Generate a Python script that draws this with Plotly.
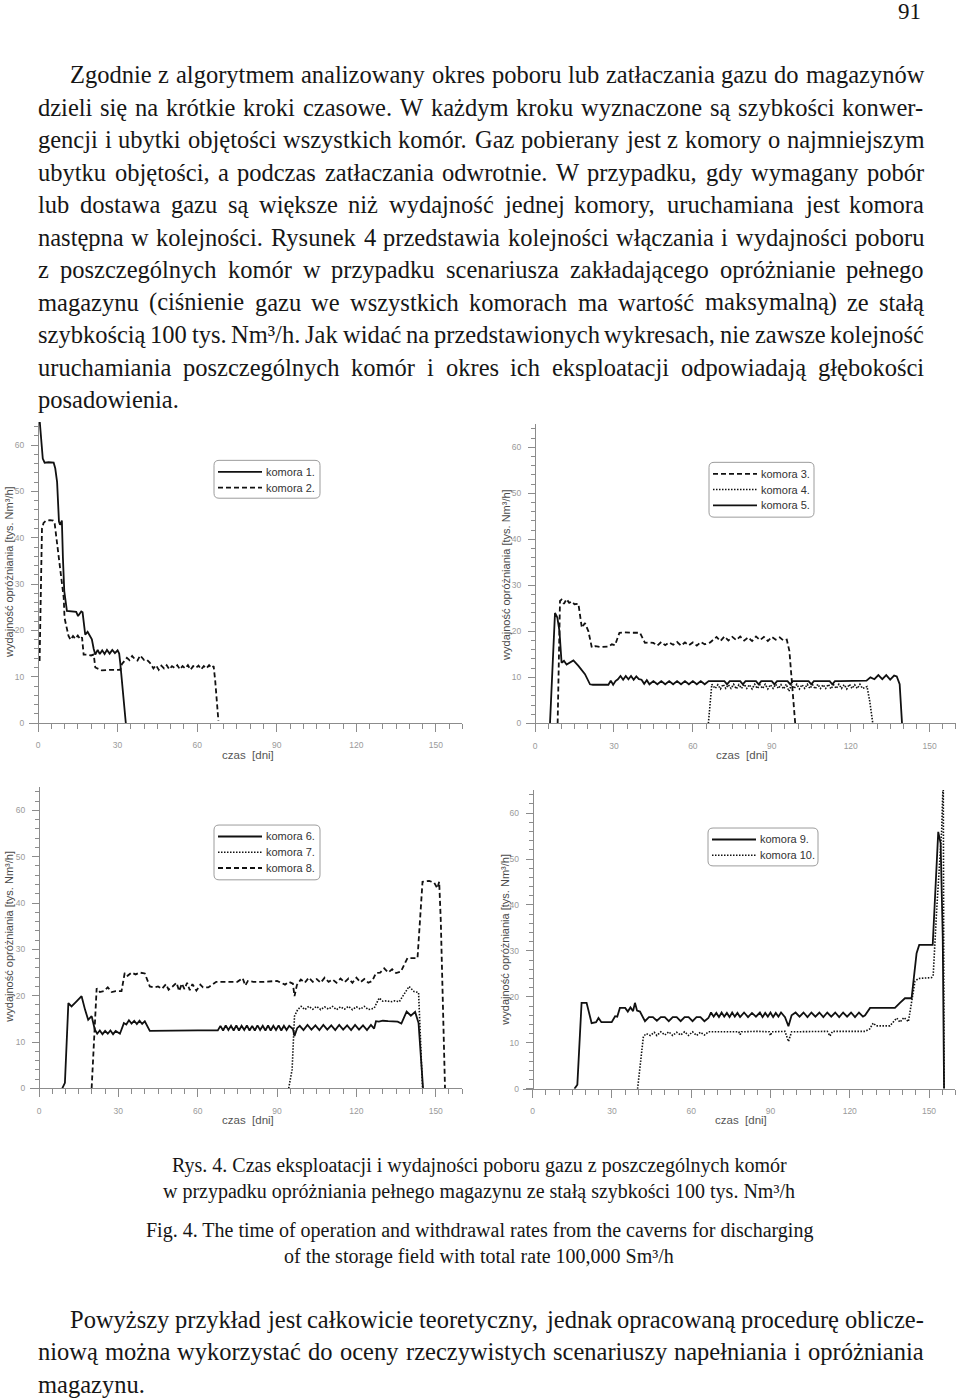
import plotly.graph_objects as go

# ---- data (x = czas [dni], y = tys. Nm3/h) ----
k1_x = [0.6, 1.2, 1.8, 2.5, 4.0, 5.9, 6.5, 7.2, 7.9, 8.3, 9.0, 9.4, 9.9, 10.9, 12.5, 14.4, 15.1, 16.3, 16.8, 17.8,
        18.7, 19.5, 20.3, 21.0, 21.6, 22.5, 23.3, 24.2, 25.1, 26.0, 27.0, 28.0, 29.0, 30.0, 30.6, 31.0, 32.3, 33.1]
k1_y = [65.5, 60.5, 57.1, 56.2, 56.3, 56.2, 55.0, 52.0, 43.5, 42.8, 43.7, 35.6, 28.5, 24.2, 24.1, 24.0, 23.1, 24.1, 23.9, 19.1,
        19.7, 19.0, 18.1, 16.0, 14.8, 15.8, 14.9, 15.7, 14.9, 15.8, 15.0, 15.8, 15.1, 15.7, 15.0, 13.0, 4.8, 0.0]

k2_x = [0.6, 1.1, 1.5, 2.1, 3.0, 4.5, 5.7, 6.3, 7.2, 8.4, 9.7, 10.0, 10.9, 11.5, 12.3, 13.2, 14.1, 15.0, 15.9, 16.6,
        17.2, 18.5, 20.0, 21.0, 21.6, 22.5, 24.0, 27.0, 30.4,
        31.0, 31.6, 32.5, 33.5, 34.5, 35.5, 36.5, 37.5, 38.5, 40.0, 41.0, 42.2, 43.5, 44.5, 45.5, 46.5, 47.5, 48.5, 49.5,
        50.5, 51.5, 52.5, 53.5, 54.5, 55.5, 56.5, 57.5, 58.5, 59.5, 60.5, 61.5, 62.5, 63.5, 64.5, 65.5, 66.2, 66.8, 68.0]
k2_y = [13.4, 30.0, 42.0, 43.2, 43.7, 43.8, 43.7, 43.0, 38.5, 33.5, 27.0, 22.7, 19.9, 18.8, 18.0, 18.8, 18.2, 18.9, 18.1, 18.5,
        14.8, 14.8, 14.6, 14.8, 12.0, 11.8, 11.4, 11.5, 11.5,
        11.5, 12.7, 13.3, 14.1, 13.6, 14.5, 13.8, 13.5, 14.6, 13.6, 13.7, 13.0, 11.8, 12.5, 11.5, 12.4, 11.8, 12.5, 11.6,
        12.3, 11.9, 12.5, 11.6, 12.3, 11.8, 12.5, 11.5, 12.3, 11.9, 12.4, 11.6, 12.3, 11.8, 12.5, 11.9, 12.3, 9.1, 0.5]

k3_x = [8.6, 9.5, 10.1, 11.0, 12.0, 13.0, 14.0, 15.0, 16.5, 17.8, 19.0, 20.3, 21.6, 23.0, 25.0, 27.9, 29.2, 30.4, 32.1, 34.0,
        37.0, 39.9, 41.8, 43.5, 45.0, 46.5, 48.0, 49.5, 51.0, 52.5, 54.0, 55.5, 57.0, 58.5, 60.0, 61.5, 63.0, 64.5, 66.6, 67.8,
        69.0, 70.5, 72.0, 73.5, 75.0, 76.5, 78.0, 79.5, 81.0, 82.5, 84.0, 85.5, 87.0, 88.5, 90.0, 91.5, 93.0, 94.5, 95.7, 96.7,
        97.6, 98.9]
k3_y = [0.0, 26.6, 26.9, 26.0, 27.0, 26.2, 26.5, 25.9, 26.0, 20.8, 21.8, 20.0, 16.5, 16.8, 16.6, 16.7, 17.2, 17.0, 19.7, 19.8,
        19.7, 19.7, 17.5, 17.6, 17.5, 16.9, 17.7, 17.0, 17.6, 17.1, 17.7, 16.9, 17.6, 17.0, 17.6, 16.9, 17.7, 17.2, 17.6, 18.3,
        18.8, 17.9, 18.9, 18.0, 18.8, 18.1, 18.9, 18.0, 18.7, 17.9, 18.9, 18.1, 18.8, 17.9, 18.8, 18.2, 18.7, 18.0, 18.2, 15.7,
        8.5, 0.0]

k4_x = [65.9, 67.2, 68.5, 69.5, 70.5, 71.5, 72.5, 73.5, 74.5, 75.5, 76.5, 77.5, 78.5, 79.5, 80.5, 81.5, 82.5, 83.5, 84.5,
        85.5, 86.5, 87.5, 88.5, 89.5, 90.5, 91.5, 92.5, 93.5, 94.5, 95.5, 96.5, 97.5, 98.5, 99.5, 100.5, 101.5, 102.5, 103.5,
        104.5, 105.5, 106.5, 107.5, 108.5, 109.5, 110.5, 111.5, 112.5, 113.5, 114.5, 115.5, 116.5, 117.5, 118.5, 119.5,
        120.5, 121.5, 122.5, 123.5, 124.5, 126.2, 127.2, 128.4]
k4_y = [0.0, 8.5, 7.6, 8.4, 7.5, 8.5, 7.6, 8.4, 7.6, 8.5, 7.5, 8.4, 7.6, 8.5, 7.6, 8.4, 7.5, 8.5, 7.6, 8.4,
        7.6, 8.5, 7.5, 8.4, 7.6, 8.5, 7.6, 8.4, 7.5, 8.5, 7.0, 8.4, 7.6, 8.5, 7.5, 8.4, 7.6, 8.5, 7.6, 8.4,
        7.5, 8.5, 7.6, 8.4, 7.6, 8.5, 7.5, 8.4, 7.6, 8.5, 7.6, 8.4, 7.5, 8.5, 7.6, 8.4, 7.6, 8.5, 7.6, 8.0,
        4.9, 0.0]

k5_x = [5.7, 7.6, 8.5, 9.3, 10.1, 11.0, 12.0, 13.3, 14.6, 16.5, 17.8, 19.0, 20.9, 22.0, 25.0, 27.9, 28.8, 29.7, 30.6, 31.5,
        32.5, 33.5, 34.5, 35.5, 36.5, 37.5, 38.5, 39.5, 40.5, 41.5, 42.5, 43.5, 45.0, 46.5, 48.0, 49.5, 51.0, 52.5, 54.0, 55.5,
        57.0, 58.5, 60.0, 61.5, 63.0, 64.5, 66.0, 67.5, 70.0, 72.0, 73.0, 74.0, 76.0, 78.0, 79.0, 80.0, 82.0, 84.0, 85.0, 86.0,
        88.0, 90.0, 91.0, 92.0, 94.0, 96.0, 97.0, 98.0, 100.0, 104.0, 105.0, 106.0, 108.0, 112.0, 113.0, 114.0, 116.0, 120.0,
        124.0, 126.0, 127.5, 129.0, 130.5, 132.0, 133.5, 135.0, 136.5, 137.5, 138.6, 139.5]
k5_y = [0.0, 24.0, 23.0, 20.0, 13.2, 13.6, 12.8, 13.3, 13.7, 12.5, 11.5, 10.7, 8.5, 8.4, 8.4, 8.4, 9.3, 8.4, 9.2, 9.6,
        10.3, 9.5, 10.3, 9.6, 10.3, 9.5, 10.2, 9.6, 9.5, 8.6, 9.4, 8.5, 9.2, 8.5, 9.2, 8.5, 9.2, 8.5, 9.2, 8.5,
        9.2, 8.5, 9.2, 8.5, 9.2, 8.5, 9.2, 9.2, 9.2, 9.2, 8.5, 9.2, 9.2, 9.2, 8.5, 9.2, 9.2, 9.2, 8.5, 9.2,
        9.2, 9.2, 8.5, 9.2, 9.2, 9.2, 8.5, 9.2, 9.2, 9.2, 8.5, 9.2, 9.2, 9.2, 8.5, 9.2, 9.2, 9.2,
        9.2, 9.3, 10.0, 9.6, 10.5, 9.6, 10.5, 9.5, 10.4, 10.2, 8.5, 0.0]

k6_x = [8.8, 9.8, 11.1, 12.3, 14.2, 16.1, 17.4, 18.6, 19.9, 21.1, 22.0, 23.0, 24.0, 25.0, 26.0, 27.0, 28.0, 29.0, 30.6, 32.1,
        33.0, 34.0, 35.0, 36.0, 37.0, 38.0, 39.0, 40.0, 41.9, 50.0, 60.0, 67.6,
        68.6, 69.6, 70.6, 71.6, 72.6, 73.6, 74.6, 75.6, 76.6, 77.6, 78.6, 79.6, 80.6, 81.6, 82.6, 83.6, 84.6, 85.6, 86.6,
        87.6, 88.6, 89.6, 90.6, 91.6, 92.6, 93.6, 94.6, 96.0, 96.6, 97.6, 98.6,
        100.0, 101.5, 103.0, 104.5, 106.0, 107.5, 109.0, 110.5, 112.0, 113.5, 115.0, 116.5, 118.0, 119.5, 121.0, 122.5,
        124.0, 125.5, 126.7, 127.4, 128.5, 130.0, 132.0, 134.0, 135.6, 137.0, 139.0, 140.6, 142.2, 143.5, 145.2]
k6_y = [0.0, 1.2, 18.4, 17.7, 18.8, 19.9, 17.0, 14.8, 15.6, 12.7, 11.8, 12.5, 11.7, 12.4, 11.8, 12.5, 11.7, 12.4, 11.8, 14.1,
        13.8, 14.7, 14.0, 14.6, 13.9, 14.6, 13.9, 14.5, 12.4, 12.5, 12.5, 12.5,
        13.5, 12.5, 13.6, 12.6, 13.5, 12.5, 13.6, 12.5, 13.5, 12.6, 13.6, 12.5, 13.5, 12.5, 13.6, 12.6, 13.5, 12.5, 13.6,
        12.5, 13.5, 12.6, 13.6, 12.5, 13.5, 12.6, 13.5, 12.8, 11.3, 13.0, 13.5,
        12.6, 13.7, 12.7, 13.6, 12.6, 13.7, 12.7, 13.6, 12.6, 13.7, 12.7, 13.6, 12.6, 13.7, 12.7, 13.6,
        12.6, 13.7, 12.9, 14.5, 14.4, 14.6, 14.5, 14.5, 14.4, 14.0, 16.6, 15.7, 16.5, 14.1, 0.0]

k7_x = [94.4, 95.7, 96.6, 97.8, 99.1, 100.5, 102.0, 103.5, 105.0, 106.5, 108.0, 109.5, 111.0, 112.5, 114.0, 115.5, 117.0,
        118.5, 120.0, 121.5, 123.0, 124.5, 126.7, 128.6, 130.0, 131.5, 133.0, 134.5, 136.2, 137.5, 139.9, 141.8, 143.5, 145.0]
k7_y = [0.0, 4.1, 15.6, 17.0, 17.7, 17.0, 17.7, 17.1, 17.7, 17.0, 17.6, 17.1, 17.7, 17.0, 17.6, 17.1, 17.7,
        17.0, 17.6, 17.1, 17.7, 17.0, 17.3, 19.5, 18.8, 18.9, 18.7, 18.9, 18.7, 19.8, 22.0, 20.9, 20.7, 0.0]

k8_x = [19.9, 21.8, 23.0, 24.5, 26.0, 27.5, 29.0, 31.2, 32.4, 33.5, 35.0, 36.5, 38.0, 40.0, 41.9, 43.5, 45.0, 46.5, 48.0, 49.0,
        50.5, 52.0, 53.0, 54.0, 55.0, 56.0, 57.0, 58.0, 59.5, 61.0, 62.0, 64.0, 67.0, 70.0, 75.0, 77.0, 78.0, 79.0, 81.0, 85.0,
        90.0, 93.0, 94.5, 96.0, 96.6, 97.5, 99.0, 100.5, 102.0, 103.5, 105.0, 106.5, 108.0, 109.5, 111.0, 112.5, 114.0, 115.5,
        117.0, 118.5, 120.0, 121.5, 123.0, 124.5, 126.0, 127.4, 129.0, 130.5, 132.0, 133.5, 135.0, 136.8, 139.3, 141.0, 143.1,
        145.0, 147.5, 149.4, 150.6, 151.3, 151.9, 153.5]
k8_y = [0.0, 21.6, 20.8, 21.0, 21.8, 20.8, 21.0, 21.0, 24.9, 24.3, 25.0, 24.6, 25.0, 24.8, 22.0, 21.8, 22.0, 21.5, 22.5, 21.3,
        22.0, 22.8, 21.0, 22.6, 21.4, 22.8, 21.2, 22.5, 21.1, 22.4, 21.8, 21.8, 23.0, 23.0, 23.0, 23.8, 22.2, 23.2, 23.0, 23.0,
        23.2, 22.4, 23.0, 22.6, 19.9, 22.3, 23.5, 22.8, 23.9, 23.0, 23.6, 22.8, 23.9, 23.0, 23.5, 22.8, 23.7, 22.9,
        23.7, 22.8, 23.9, 22.9, 23.6, 22.8, 23.2, 24.9, 25.0, 25.9, 25.0, 25.7, 24.9, 25.2, 28.1, 28.1, 28.1,
        44.6, 44.8, 44.4, 43.2, 44.6, 36.3, 0.0]

k9_x = [15.8, 16.9, 18.5, 20.4, 22.3, 24.0, 24.9, 26.0, 29.9, 31.2, 32.0, 33.0, 35.0, 36.0, 37.0, 38.0, 38.7, 39.5, 40.6, 42.5,
        44.0, 45.5, 47.0, 48.5, 50.0, 51.5, 53.0, 54.5, 56.0, 57.5, 59.0, 60.5, 62.0, 63.5, 65.0, 66.5, 67.5, 68.5, 69.5, 70.5,
        71.5, 72.5, 73.5, 74.5, 75.5, 76.5, 77.5, 78.5, 80.0, 81.5, 83.0, 84.5, 86.0, 87.0, 88.0, 89.0, 90.0, 91.0, 92.0, 93.0,
        94.0, 95.5, 96.8, 98.0, 99.5, 101.0, 102.5, 104.0, 105.5, 107.0, 108.5, 110.0, 111.5, 113.0, 114.5, 116.0, 117.5,
        119.0, 120.5, 122.0, 123.5, 125.0, 125.8, 127.7, 133.0, 137.1, 139.0, 140.9, 143.4, 145.3, 146.3, 151.4, 153.5,
        154.4, 155.2, 155.7]
k9_y = [0.0, 0.9, 18.7, 18.7, 14.3, 14.5, 15.4, 14.5, 14.5, 15.8, 15.7, 17.6, 17.6, 16.8, 17.7, 16.9, 18.7, 17.0, 16.8, 14.7,
        15.6, 15.6, 14.8, 15.6, 15.6, 14.7, 15.6, 15.6, 14.7, 15.6, 15.6, 14.7, 15.6, 15.6, 14.7, 15.4, 16.6, 15.7, 16.5, 15.6,
        16.6, 15.7, 16.5, 15.6, 16.6, 15.7, 16.5, 15.6, 16.6, 15.6, 16.5, 15.7, 16.6, 15.6, 16.5, 15.7, 16.6, 15.6, 16.5, 15.7,
        16.6, 15.6, 13.6, 16.0, 16.6, 15.7, 16.6, 15.6, 16.6, 15.7, 16.6, 15.6, 16.6, 15.7, 16.6, 15.6, 16.6,
        15.7, 16.6, 15.6, 16.6, 15.7, 16.0, 17.6, 17.6, 17.6, 18.7, 19.7, 19.7, 29.5, 31.3, 31.3, 55.9,
        53.4, 33.1, 0.0]

k10_x = [39.7, 41.9, 43.0, 44.5, 46.0, 47.0, 48.5, 50.0, 51.5, 53.0, 54.5, 56.0, 57.5, 59.0, 60.5, 62.0, 63.5, 65.0, 66.5,
         67.1, 70.0, 75.0, 78.0, 78.5, 79.0, 85.0, 89.5, 90.0, 90.5, 95.5, 96.8, 98.0, 105.0, 111.5, 112.5, 113.5, 120.0,
         125.8, 127.5, 128.9, 130.0, 135.2, 137.8, 139.0, 140.5, 142.2, 144.7, 146.0, 151.0, 151.6, 152.9, 154.8, 155.4, 155.7]
k10_y = [0.0, 11.4, 12.0, 11.6, 12.3, 11.6, 12.4, 11.7, 12.4, 11.6, 12.3, 11.7, 12.4, 11.6, 12.4, 11.6, 12.3, 11.7, 12.4,
         12.4, 12.5, 12.5, 12.4, 11.8, 12.4, 12.5, 12.4, 11.6, 12.4, 12.5, 10.3, 12.4, 12.5, 12.5, 11.5, 12.5, 12.5,
         12.5, 13.0, 14.3, 13.7, 13.7, 15.4, 14.5, 15.5, 14.6, 23.4, 24.0, 24.2, 24.8, 38.9, 56.3, 68.0, 0.0]

x_tick_vals = [0, 30, 60, 90, 120, 150]
y_tick_vals = [0, 10, 20, 30, 40, 50, 60]

# ---- page text ----
page_number = "91"
para1_lines = [
    "Zgodnie z algorytmem analizowany okres poboru lub zatłaczania gazu do magazynów",
    "dzieli się na krótkie kroki czasowe. W każdym kroku wyznaczone są szybkości konwer-",
    "gencji i ubytki objętości wszystkich komór. Gaz pobierany jest z komory o najmniejszym",
    "ubytku objętości, a podczas zatłaczania odwrotnie. W przypadku, gdy wymagany pobór",
    "lub dostawa gazu są większe niż wydajność jednej komory, uruchamiana jest komora",
    "następna w kolejności. Rysunek 4 przedstawia kolejności włączania i wydajności poboru",
    "z poszczególnych komór w przypadku scenariusza zakładającego opróżnianie pełnego",
    "magazynu (ciśnienie gazu we wszystkich komorach ma wartość maksymalną) ze stałą",
    "szybkością 100 tys. Nm³/h. Jak widać na przedstawionych wykresach, nie zawsze kolejność",
    "uruchamiania poszczególnych komór i okres ich eksploatacji odpowiadają głębokości",
    "posadowienia.",
]
caption_lines = [
    "Rys. 4. Czas eksploatacji i wydajności poboru gazu z poszczególnych komór",
    "w przypadku opróżniania pełnego magazynu ze stałą szybkości 100 tys. Nm³/h",
    "Fig. 4. The time of operation and withdrawal rates from the caverns for discharging",
    "of the storage field with total rate 100,000 Sm³/h",
]
para2_lines = [
    "Powyższy przykład jest całkowicie teoretyczny, jednak opracowaną procedurę oblicze-",
    "niową można wykorzystać do oceny rzeczywistych scenariuszy napełniania i opróżniania",
    "magazynu.",
]

PAGE_W, PAGE_H = 960, 1398
BODY_SIZE = 24.5
TEXT_COLOR = "#161616"
LINE_COLOR = "#111111"
AXIS_COLOR = "#8c8c8c"
DASHES = {"solid": "solid", "dash": "5px,3px", "dot": "1.5px,1.5px"}

# Times widths (1/1000 em) used to spread words of justified lines
_TIMES = dict(zip("abcdefghijklmnopqrstuvwxyz",
                  [444, 500, 444, 500, 444, 333, 500, 500, 278, 278, 500, 278, 778,
                   500, 500, 500, 500, 333, 389, 278, 500, 500, 722, 500, 500, 444]))
_TIMES.update(zip("ABCDEFGHIJKLMNOPQRSTUVWXYZ",
                  [722, 667, 667, 722, 611, 556, 722, 722, 333, 389, 722, 611, 889,
                   722, 722, 556, 722, 667, 556, 611, 722, 722, 944, 722, 722, 611]))
_TIMES.update({d: 500 for d in "0123456789"})
_TIMES.update({" ": 250, ",": 250, ".": 250, "-": 333, "(": 333, ")": 333, "/": 278, ":": 278, "³": 300,
               "ą": 444, "ę": 444, "ł": 278, "ś": 389, "ć": 444, "ż": 444, "ź": 444, "ó": 500, "ń": 500})


def _word_width(word, size):
    return sum(_TIMES.get(c, 500) for c in word) * size / 1000.0


def _px(x):
    return x / PAGE_W


def _py(y):
    return 1 - y / PAGE_H


def add_text_line(fig, line, y_px, x_left, x_right, size, justify):
    words = line.split(" ")
    widths = [_word_width(w, size) for w in words]
    gap = 0.25 * size
    if justify and len(words) > 1:
        gap = (x_right - x_left - sum(widths)) / (len(words) - 1)
    x = x_left
    for word, width in zip(words, widths):
        fig.add_annotation(
            x=_px(x), y=_py(y_px), xref="paper", yref="paper",
            text=word, showarrow=False, xanchor="left", yanchor="middle",
            borderpad=0, borderwidth=0,
            font=dict(family="Liberation Serif", size=size, color=TEXT_COLOR),
        )
        x += width + gap


def rounded_box(x0, y0, x1, y1, r=5):
    rx, ry = r / PAGE_W, r / PAGE_H
    a, b, c, d = _px(x0), _px(x1), _py(y0), _py(y1)
    return (f"M{a + rx},{c} L{b - rx},{c} Q{b},{c} {b},{c - ry} L{b},{d + ry} Q{b},{d} {b - rx},{d} "
            f"L{a + rx},{d} Q{a},{d} {a},{d + ry} L{a},{c - ry} Q{a},{c} {a + rx},{c} Z")


panels = [
    dict(series=[("komora 1.", k1_x, k1_y, "solid"), ("komora 2.", k2_x, k2_y, "dash")],
         x0=38.0, ppd=2.653, y0=725.7, ppu=4.65, xtitle=(248, 758), ytitle=(9, 574),
         legend=(214, 462, 320, 500)),
    dict(series=[("komora 3.", k3_x, k3_y, "dash"), ("komora 4.", k4_x, k4_y, "dot"),
                 ("komora 5.", k5_x, k5_y, "solid")],
         x0=535.0, ppd=2.631, y0=726.0, ppu=4.617, xtitle=(742, 758), ytitle=(506, 577),
         legend=(709, 464, 814, 519)),
    dict(series=[("komora 6.", k6_x, k6_y, "solid"), ("komora 7.", k7_x, k7_y, "dot"),
                 ("komora 8.", k8_x, k8_y, "dash")],
         x0=39.0, ppd=2.645, y0=1092.3, ppu=4.65, xtitle=(248, 1124), ytitle=(9, 940),
         legend=(214, 828, 320, 883)),
    dict(series=[("komora 9.", k9_x, k9_y, "solid"), ("komora 10.", k10_x, k10_y, "dot")],
         x0=532.7, ppd=2.642, y0=1092.7, ppu=4.612, xtitle=(741, 1124), ytitle=(505, 943),
         legend=(708, 831, 818, 869)),
]

fig = go.Figure()
shapes = []
layout_axes = {}
tick_font = dict(family="Liberation Sans", size=8.5, color="#9a9a9a")

for i, panel in enumerate(panels, start=1):
    suffix = "" if i == 1 else str(i)
    for name, xs, ys, dash in panel["series"]:
        fig.add_trace(go.Scatter(
            x=xs, y=ys, mode="lines", name=name, showlegend=False,
            line=dict(color=LINE_COLOR, width=1.8 if dash != "dot" else 1.6, dash=DASHES[dash]),
            xaxis="x" + suffix, yaxis="y" + suffix,
            hovertemplate=name + "<br>%{x} dni: %{y} tys. Nm³/h<extra></extra>",
        ))

    left = panel["x0"] - 3.5 * panel["ppd"]
    right = panel["x0"] + 160 * panel["ppd"]
    top = panel["y0"] - 65 * panel["ppu"]
    layout_axes["xaxis" + suffix] = dict(
        domain=[_px(left), _px(right)], range=[-3.5, 160], anchor="y" + suffix,
        tickvals=x_tick_vals, showline=True, linecolor=AXIS_COLOR, linewidth=1,
        ticks="outside", ticklen=8, tickcolor=AXIS_COLOR, tickfont=tick_font, ticklabelstandoff=6,
        minor=dict(dtick=5, tick0=0, ticks="outside", ticklen=5, tickcolor=AXIS_COLOR),
        showgrid=False, zeroline=False, fixedrange=True,
    )
    layout_axes["yaxis" + suffix] = dict(
        domain=[_py(panel["y0"]), _py(top)], range=[0, 65], anchor="free", position=_px(panel["x0"]),
        tickvals=y_tick_vals, showline=True, linecolor=AXIS_COLOR, linewidth=1,
        ticks="outside", ticklen=7, tickcolor=AXIS_COLOR, tickfont=tick_font, ticklabelstandoff=5,
        minor=dict(dtick=2, tick0=0, ticks="outside", ticklen=4, tickcolor=AXIS_COLOR),
        showgrid=False, zeroline=False, fixedrange=True,
    )

    tx, ty = panel["xtitle"]
    fig.add_annotation(x=_px(tx), y=_py(ty), xref="paper", yref="paper", showarrow=False,
                       xanchor="center", yanchor="middle", borderpad=0,
                       text="czas\u00a0 [dni]", font=dict(family="Liberation Sans", size=11.5, color="#555555"))
    tx, ty = panel["ytitle"]
    fig.add_annotation(x=_px(tx), y=_py(ty), xref="paper", yref="paper", showarrow=False, textangle=-90,
                       xanchor="center", yanchor="middle", borderpad=0,
                       text="wydajność opróżniania [tys. Nm³/h]",
                       font=dict(family="Liberation Sans", size=11, color="#4a4a4a"))

    # legend box with rounded corners, keys and labels
    bx0, by0, bx1, by1 = panel["legend"]
    shapes.append(dict(type="path", xref="paper", yref="paper", path=rounded_box(bx0, by0, bx1, by1),
                       line=dict(color="#9c9c9c", width=1), fillcolor="rgba(255,255,255,0)"))
    for k, (name, _, _, dash) in enumerate(panel["series"]):
        ey = by0 + 11.5 + 15.8 * k
        shapes.append(dict(type="line", xref="paper", yref="paper",
                           x0=_px(bx0 + 4), x1=_px(bx0 + 48), y0=_py(ey), y1=_py(ey),
                           line=dict(color=LINE_COLOR, width=1.8 if dash != "dot" else 1.6, dash=DASHES[dash])))
        fig.add_annotation(x=_px(bx0 + 51), y=_py(ey), xref="paper", yref="paper", showarrow=False,
                           xanchor="left", yanchor="middle", text=name, borderpad=0,
                           font=dict(family="Liberation Sans", size=11, color="#333333"))

# page number and text blocks
fig.add_annotation(x=_px(922), y=_py(12), xref="paper", yref="paper", showarrow=False, xanchor="right",
                   yanchor="middle", text=page_number, borderpad=0,
                   font=dict(family="Liberation Serif", size=23, color=TEXT_COLOR))

for n, line in enumerate(para1_lines):
    last = n == len(para1_lines) - 1
    add_text_line(fig, line, 75 + 32.6 * n, 70 if n == 0 else 38, 924, BODY_SIZE, justify=not last)

for n, (line, y_px) in enumerate(zip(caption_lines, [1170, 1196, 1235, 1261])):
    fig.add_annotation(x=_px(479), y=_py(y_px), xref="paper", yref="paper", showarrow=False,
                       xanchor="center", yanchor="middle", text=line, borderpad=0,
                       font=dict(family="Liberation Serif", size=20, color=TEXT_COLOR))

for n, line in enumerate(para2_lines):
    last = n == len(para2_lines) - 1
    add_text_line(fig, line, 1324 + 32.6 * n, 70 if n == 0 else 38, 924, BODY_SIZE, justify=not last)

fig.update_layout(
    width=PAGE_W, height=PAGE_H,
    margin=dict(l=0, r=0, t=0, b=0),
    paper_bgcolor="#ffffff", plot_bgcolor="#ffffff",
    showlegend=False, hovermode="closest",
    shapes=shapes,
    **layout_axes,
)

fig.write_html("out.html", config={"displayModeBar": False},
               post_script="document.body.style.margin='0';document.body.style.overflow='hidden';")
